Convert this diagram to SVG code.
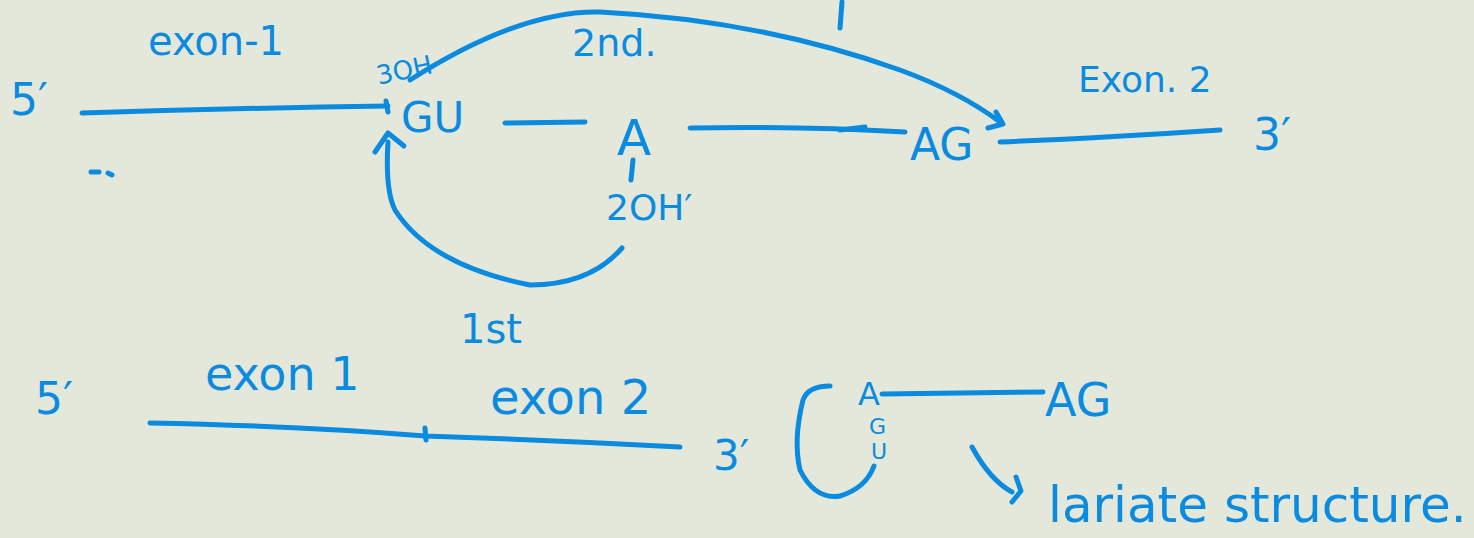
<svg xmlns="http://www.w3.org/2000/svg" width="1474" height="538" viewBox="0 0 1474 538">
<style>
.s{fill:none;stroke:#0a8be0;stroke-width:5;stroke-linecap:round;stroke-linejoin:round}
.t{fill:#0a8be0;font-family:"DejaVu Sans",sans-serif}
</style>
<rect width="1474" height="538" fill="#e4e8da"/>
<g id="connectors">
<path class="s" d="M82,113 Q240,108 388,106"/>
<path class="s" d="M386,101 L388,112"/>
<path class="s" d="M505,123 L585,122"/>
<path class="s" d="M690,128 Q800,126 905,132"/>
<path class="s" d="M840,130 L865,127"/>
<path class="s" d="M1000,142 Q1100,138 1220,130"/>
<path class="s" d="M410,80 Q520,10 600,12 Q760,20 900,70 Q960,92 1000,122"/>
<path class="s" d="M988,128 L1003,124 L996,112"/>
<path class="s" d="M842,2 L840,28"/>
<path class="s" d="M633,160 L631,180"/>
<path class="s" d="M388,142 Q385,190 395,210 Q430,265 530,285 Q590,285 622,248"/>
<path class="s" d="M375,152 L388,133 L404,146"/>
<path class="s" d="M91,172 L99,172"/>
<path class="s" d="M108,173 L112,175"/>
<path class="s" d="M150,423 Q300,426 425,436 Q550,440 680,447"/>
<path class="s" d="M425,428 L426,440"/>
<path class="s" d="M882,394 L1043,392"/>
<path class="s" d="M830,386 Q808,386 803,400 Q793,440 800,470 Q815,500 840,496 Q866,488 874,466"/>
<path class="s" d="M972,447 Q990,480 1012,492"/>
<path class="s" d="M1016,477 L1021,491 L1012,502"/>
</g>
<g id="n5a"><text class="t" x="10" y="115" font-size="44">5′</text></g>
<g id="exon1a"><text class="t" x="148" y="55" font-size="40">exon-1</text></g>
<g id="oh3"><text class="t" x="376" y="80" font-size="26" transform="rotate(-12 400 70)">3OH</text></g>
<g id="gu"><text class="t" x="401" y="132" font-size="42">GU</text></g>
<g id="nd2"><text class="t" x="572" y="56" font-size="38">2nd.</text></g>
<g id="a1"><text class="t" x="617" y="155" font-size="50">A</text></g>
<g id="ag1"><text class="t" x="910" y="160" font-size="44">AG</text></g>
<g id="exon2a"><text class="t" x="1078" y="92" font-size="36">Exon. 2</text></g>
<g id="n3a"><text class="t" x="1253" y="150" font-size="44">3′</text></g>
<g id="oh2"><text class="t" x="606" y="220" font-size="36">2OH′</text></g>
<g id="first"><text class="t" x="460" y="343" font-size="40">1st</text></g>
<g id="n5b"><text class="t" x="35" y="414" font-size="44">5′</text></g>
<g id="exon1b"><text class="t" x="205" y="390" font-size="46">exon 1</text></g>
<g id="exon2b"><text class="t" x="490" y="414" font-size="48">exon 2</text></g>
<g id="n3b"><text class="t" x="713" y="470" font-size="42">3′</text></g>
<g id="lariat">
<text class="t" x="858" y="405" font-size="32">A</text>
<text class="t" x="869" y="434" font-size="22">G</text>
<text class="t" x="871" y="459" font-size="22">U</text>
</g>
<g id="ag2"><text class="t" x="1045" y="416" font-size="46">AG</text></g>
<g id="lariatlabel"><text class="t" x="1048" y="522" font-size="50">lariate structure.</text></g>
</svg>
